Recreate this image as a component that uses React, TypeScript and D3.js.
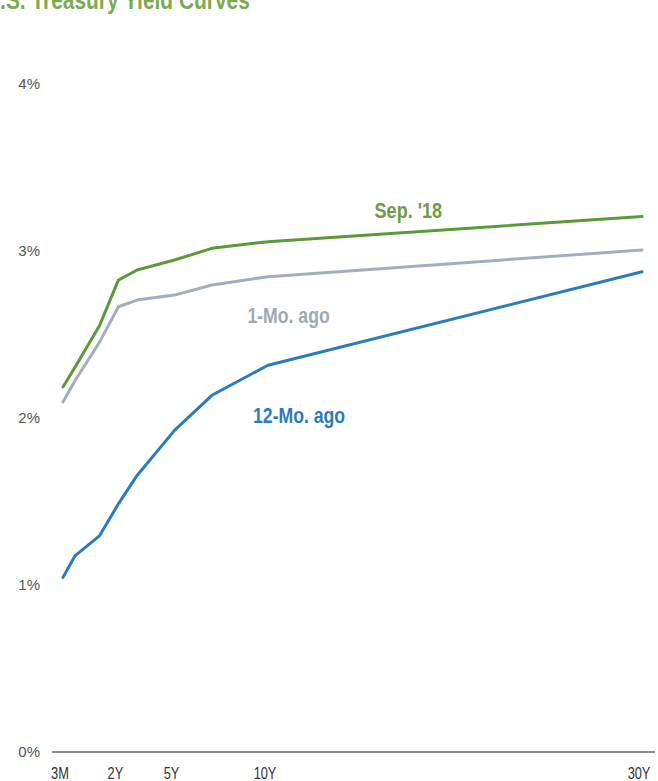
import * as d3 from "d3";
import React, { useEffect, useRef } from "react";

// maturities in years and their labels
const tenors = [0.25, 0.5, 1, 2, 3, 5, 7, 10, 30];
const axisTenors = [0.25, 2, 5, 10, 30];
const axisLabels = ["3M", "2Y", "5Y", "10Y", "30Y"];

// yields (%)
const sep18 = [2.18, 2.3, 2.55, 2.82, 2.88, 2.94, 3.01, 3.05, 3.2];
const oneMoAgo = [2.09, 2.22, 2.45, 2.66, 2.7, 2.73, 2.79, 2.84, 3.0];
const twelveMoAgo = [1.04, 1.17, 1.29, 1.48, 1.65, 1.92, 2.13, 2.31, 2.87];

const yTicks = [0, 1, 2, 3, 4];

const FONT = "'Liberation Sans', Arial, sans-serif";
const NARROW = 0.82; // squeeze to look like Arial Narrow

export default function App() {
  const svgRef = useRef<SVGSVGElement>(null);

  useEffect(() => {
    document.body.style.margin = "0";
    const width = 658;
    const height = 781;

    const svg = d3.select(svgRef.current).attr("width", width).attr("height", height);
    svg.selectAll("*").remove();

    // the source chart squeezes the short end: 3M..1Y, then linear in years
    const x = d3.scaleLinear().domain([0.25, 1, 30]).range([63, 99.7, 642]);
    const y = d3.scaleLinear().domain([0, 4]).range([751, 83]);

    // title (clipped at top like the source)
    svg
      .append("text")
      .attr("transform", `translate(-15,9) scale(${NARROW},1)`)
      .attr("font-family", FONT)
      .attr("font-weight", "bold")
      .attr("font-size", 25.5)
      .attr("fill", "#7aab4f")
      .text("U.S. Treasury Yield Curves");

    // y tick labels
    svg
      .append("g")
      .selectAll("text")
      .data(yTicks)
      .enter()
      .append("text")
      .attr("x", 40)
      .attr("y", (d) => y(d) + 1)
      .attr("dy", "0.35em")
      .attr("text-anchor", "end")
      .attr("font-family", FONT)
      .attr("font-size", 15)
      .attr("fill", "#555")
      .text((d) => `${d}%`);

    // x axis line
    svg
      .append("line")
      .attr("x1", 52)
      .attr("x2", 655)
      .attr("y1", y(0) + 1)
      .attr("y2", y(0) + 1)
      .attr("stroke", "#666")
      .attr("stroke-width", 1.5);

    svg
      .append("g")
      .selectAll("text")
      .data(axisTenors)
      .enter()
      .append("text")
      .attr("transform", (d) => `translate(${x(d) - 3},779) scale(0.8,1)`)
      .attr("text-anchor", "middle")
      .attr("font-family", FONT)
      .attr("font-size", 16)
      .attr("fill", "#333")
      .text((d, i) => axisLabels[i]);

    const line = d3
      .line<number>()
      .x((d, i) => x(tenors[i]))
      .y((d) => y(d));

    const series = [
      { values: twelveMoAgo, color: "#2b7bbf" },
      { values: oneMoAgo, color: "#a3adbd" },
      { values: sep18, color: "#5b9a3a" },
    ];

    svg
      .append("g")
      .selectAll("path")
      .data(series)
      .enter()
      .append("path")
      .attr("d", (d) => line(d.values))
      .attr("fill", "none")
      .attr("stroke", (d) => d.color)
      .attr("stroke-width", 3)
      .attr("stroke-linejoin", "round")
      .attr("stroke-linecap", "round");

    const labels = [
      { text: "Sep. '18", tx: 15.7, ty: 3.24, size: 22, color: "#6f9b45" },
      { text: "1-Mo. ago", tx: 8.9, ty: 2.61, size: 21.5, color: "#a0a8b5" },
      { text: "12-Mo. ago", tx: 9.2, ty: 2.01, size: 21.5, color: "#2b7bbf" },
    ];

    svg
      .append("g")
      .selectAll("text")
      .data(labels)
      .enter()
      .append("text")
      .attr("transform", (d) => `translate(${x(d.tx)},${y(d.ty)}) scale(${NARROW},1)`)
      .attr("dy", "0.35em")
      .attr("font-family", FONT)
      .attr("font-weight", "bold")
      .attr("font-size", (d) => d.size)
      .attr("fill", (d) => d.color)
      .text((d) => d.text);
  }, []);

  return <svg ref={svgRef} style={{ display: "block" }}></svg>;
}
